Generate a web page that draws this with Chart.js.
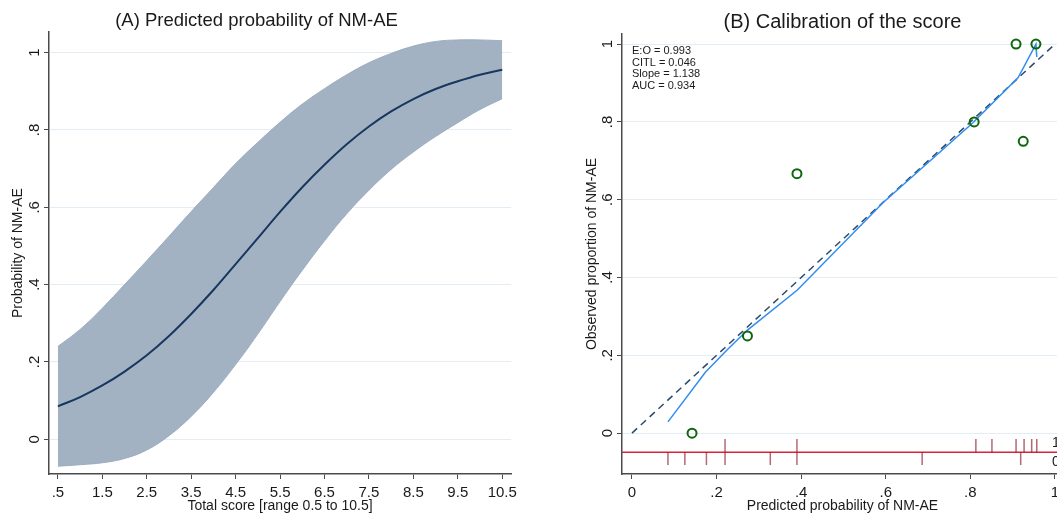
<!DOCTYPE html>
<html>
<head>
<meta charset="utf-8">
<script src="https://cdn.jsdelivr.net/npm/chart.js@4.4.1/dist/chart.umd.min.js"></script>
<style>
  body { margin: 0; background: #fff; width: 1057px; height: 517px; overflow: hidden; position: relative; }
  canvas { position: absolute; top: 0; }
  #chartA { left: 0; }
  #chartB { left: 575px; }
</style>
</head>
<body>
<canvas id="chartA" width="522" height="517"></canvas>
<canvas id="chartB" width="495" height="517"></canvas>
<script>
// Panel A: predicted probability by total score, with 95% band
const scoreValues = [0.5, 1, 1.5, 2, 2.5, 3, 3.5, 4, 4.5, 5, 5.5, 6, 6.5, 7, 7.5, 8, 8.5, 9, 9.5, 10, 10.5];
const predicted = [0.085, 0.109, 0.139, 0.175, 0.217, 0.267, 0.324, 0.386, 0.453, 0.520, 0.588, 0.652, 0.710, 0.763, 0.809, 0.848, 0.880, 0.906, 0.926, 0.943, 0.956];
const ciUpper = [0.240, 0.284, 0.339, 0.400, 0.462, 0.525, 0.589, 0.651, 0.713, 0.768, 0.820, 0.867, 0.907, 0.943, 0.974, 0.998, 1.017, 1.029, 1.033, 1.033, 1.031];
const ciLower = [-0.070, -0.066, -0.061, -0.050, -0.028, 0.009, 0.059, 0.121, 0.193, 0.272, 0.356, 0.437, 0.513, 0.583, 0.644, 0.698, 0.743, 0.783, 0.819, 0.853, 0.881];
const xTicksA = [0.5, 1.5, 2.5, 3.5, 4.5, 5.5, 6.5, 7.5, 8.5, 9.5, 10.5];
const xTickLabelsA = [".5", "1.5", "2.5", "3.5", "4.5", "5.5", "6.5", "7.5", "8.5", "9.5", "10.5"];

// shared y ticks
const yTicks = [0, 0.2, 0.4, 0.6, 0.8, 1];
const yTickLabels = ["0", ".2", ".4", ".6", ".8", "1"];

// Panel B: calibration
const groupPredicted = [0.142, 0.273, 0.39, 0.809, 0.908, 0.925, 0.955];
const groupObserved = [0, 0.25, 0.667, 0.8, 1, 0.75, 1];
const smoothX = [0.085, 0.174, 0.224, 0.273, 0.391, 0.594, 0.806, 0.913, 0.955, 0.957];
const smoothY = [0.029, 0.157, 0.213, 0.265, 0.368, 0.593, 0.798, 0.914, 1.0, 0.967];
const rugEvents = [0.22, 0.39, 0.39, 0.813, 0.851, 0.851, 0.908, 0.927, 0.945, 0.957, 0.957];
const rugNonEvents = [0.085, 0.125, 0.176, 0.176, 0.22, 0.327, 0.327, 0.39, 0.39, 0.686, 0.919];
const xTicksB = [0, 0.2, 0.4, 0.6, 0.8, 1];
const xTickLabelsB = ["0", ".2", ".4", ".6", ".8", "1"];
const statsLines = ["E:O = 0.993", "CITL = 0.046", "Slope = 1.138", "AUC = 0.934"];

const rugBase = -0.049;
const rugTop = -0.015;
const rugBottom = -0.082;
const xMinB = -0.0236;
const xMaxB = 1.019;

const textColor = "#1a1a1a";
const axisColor = "#4a4a4a";
const gridColor = "#e4edf3";
const bandColor = "rgba(152,170,189,0.9)";
const fontFamily = '"Liberation Sans", Arial, sans-serif';

Chart.defaults.font.family = fontFamily;

// y tick labels in Stata style (rotated)
const vTicks = {
  id: "vTicks",
  afterDraw(chart) {
    const s = chart.scales.y;
    const ctx = chart.ctx;
    ctx.save();
    ctx.font = "15px " + fontFamily;
    ctx.fillStyle = textColor;
    ctx.textAlign = "center";
    ctx.textBaseline = "bottom";
    s.ticks.forEach((t, i) => {
      ctx.save();
      ctx.translate(s.right - 7, s.getPixelForValue(t.value));
      ctx.rotate(-Math.PI / 2);
      ctx.fillText(yTickLabels[i], 0, 0);
      ctx.restore();
    });
    ctx.restore();
  },
};

function yScale(min, max, title, width, titlePad) {
  return {
    type: "linear",
    min: min,
    max: max,
    afterBuildTicks: (s) => { s.ticks = yTicks.map((v) => ({ value: v })); },
    afterFit: (s) => { s.width = width; },
    ticks: { color: "transparent", callback: (v, i) => yTickLabels[i], font: { size: 14 } },
    grid: { color: gridColor, lineWidth: 1, drawTicks: true, tickLength: 5, tickColor: axisColor },
    border: { color: axisColor, width: 1.5 },
    title: { display: true, text: title, font: { size: 14 }, color: textColor, padding: { top: titlePad, bottom: 0 } },
  };
}

function xScale(min, max, ticks, labels, title) {
  return {
    type: "linear",
    min: min,
    max: max,
    afterBuildTicks: (s) => { s.ticks = ticks.map((v) => ({ value: v })); },
    afterFit: (s) => { s.height = 43; },
    ticks: { callback: (v, i) => labels[i], font: { size: 15 }, color: textColor, padding: 5, maxRotation: 0, autoSkip: false },
    grid: { drawOnChartArea: false, drawTicks: true, tickLength: 5, tickColor: axisColor },
    border: { color: axisColor, width: 1.5 },
    title: { display: true, text: title, font: { size: 14 }, color: textColor, padding: { top: 0, bottom: 2 } },
  };
}

new Chart(document.getElementById("chartA"), {
  type: "line",
  data: {
    datasets: [
      {
        data: scoreValues.map((x, i) => ({ x: x, y: predicted[i] })),
        borderColor: "#17375e",
        borderWidth: 2,
        pointRadius: 0,
        tension: 0.4,
        fill: false,
      },
      {
        data: scoreValues.map((x, i) => ({ x: x, y: ciLower[i] })),
        borderColor: bandColor,
        borderWidth: 1,
        pointRadius: 0,
        tension: 0.4,
        fill: false,
      },
      {
        data: scoreValues.map((x, i) => ({ x: x, y: ciUpper[i] })),
        borderColor: bandColor,
        borderWidth: 1,
        backgroundColor: bandColor,
        pointRadius: 0,
        tension: 0.4,
        fill: "-1",
      },
    ],
  },
  options: {
    responsive: false,
    animation: false,
    layout: { padding: { right: 9 } },
    plugins: {
      legend: { display: false },
      tooltip: { enabled: false },
      title: {
        display: true,
        text: "(A) Predicted probability of NM-AE",
        font: { size: 18.5, weight: "normal" },
        color: textColor,
        padding: { top: 10, bottom: 0 },
      },
    },
    scales: {
      x: xScale(0.3, 10.7, xTicksA, xTickLabelsA, "Total score [range 0.5 to 10.5]"),
      y: yScale(-0.09, 1.053, "Probability of NM-AE", 49, 10),
    },
  },
  plugins: [vTicks],
});

// stats box and rug labels for panel B
const calibText = {
  id: "calibText",
  afterDatasetsDraw(chart) {
    const ctx = chart.ctx;
    const xs = chart.scales.x;
    const ys = chart.scales.y;
    ctx.save();
    ctx.fillStyle = textColor;
    ctx.font = "11px " + fontFamily;
    ctx.textAlign = "left";
    ctx.textBaseline = "middle";
    statsLines.forEach((line, i) => {
      ctx.fillText(line, xs.getPixelForValue(0), ys.getPixelForValue(1) + 7 + i * 11.5);
    });
    ctx.font = "14px " + fontFamily;
    ctx.fillText("1", xs.getPixelForValue(0.993), ys.getPixelForValue(-0.025));
    ctx.fillText("0", xs.getPixelForValue(0.993), ys.getPixelForValue(-0.075));
    ctx.restore();
  },
};

function rugData(values, y0, y1) {
  const out = [];
  values.forEach((v) => {
    out.push({ x: v, y: y0 }, { x: v, y: y1 }, { x: v, y: null });
  });
  return out;
}

new Chart(document.getElementById("chartB"), {
  type: "line",
  data: {
    datasets: [
      {
        data: groupPredicted.map((x, i) => ({ x: x, y: groupObserved[i] })),
        showLine: false,
        pointRadius: 4.5,
        pointBorderWidth: 2,
        pointBorderColor: "#0d650d",
        pointBackgroundColor: "rgba(0,0,0,0)",
      },
      {
        data: smoothX.map((x, i) => ({ x: x, y: smoothY[i] })),
        borderColor: "#2f8df0",
        borderWidth: 1.5,
        pointRadius: 0,
        tension: 0,
      },
      {
        data: [{ x: 0, y: 0 }, { x: 1, y: 1 }],
        borderColor: "#2d4a6b",
        borderWidth: 1.5,
        borderDash: [7, 5],
        pointRadius: 0,
      },
      {
        data: rugData(rugEvents, rugBase, rugTop),
        borderColor: "rgba(140,25,40,0.65)",
        borderWidth: 1.5,
        pointRadius: 0,
        spanGaps: false,
      },
      {
        data: rugData(rugNonEvents, rugBottom, rugBase),
        borderColor: "rgba(140,25,40,0.65)",
        borderWidth: 1.5,
        pointRadius: 0,
        spanGaps: false,
      },
      {
        data: [{ x: xMinB, y: rugBase }, { x: xMaxB, y: rugBase }],
        borderColor: "#d3263c",
        borderWidth: 1.5,
        pointRadius: 0,
      },
    ],
  },
  options: {
    responsive: false,
    animation: false,
    layout: { padding: { right: 7 } },
    plugins: {
      legend: { display: false },
      tooltip: { enabled: false },
      title: {
        display: true,
        fullSize: false,
        text: "(B) Calibration of the score",
        font: { size: 20, weight: "normal" },
        color: textColor,
        padding: { top: 10, bottom: 0 },
      },
    },
    scales: {
      x: xScale(xMinB, xMaxB, xTicksB, xTickLabelsB, "Predicted probability of NM-AE"),
      y: yScale(-0.105, 1.026, "Observed proportion of NM-AE", 47, 8.6),
    },
  },
  plugins: [vTicks, calibText],
});
</script>
</body>
</html>
